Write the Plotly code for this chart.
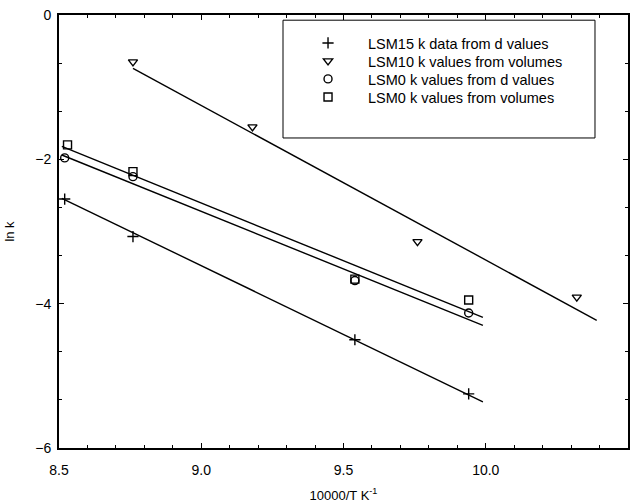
import plotly.graph_objects as go

# Data
x_lsm15 = [8.52, 8.76, 9.54, 9.94]
y_lsm15 = [-2.55, -3.07, -4.50, -5.25]

x_lsm10 = [8.76, 9.18, 9.76, 10.32]
y_lsm10 = [-0.65, -1.55, -3.14, -3.91]

x_lsm0_d = [8.52, 8.76, 9.54, 9.94]
y_lsm0_d = [-1.98, -2.24, -3.68, -4.13]

x_lsm0_v = [8.53, 8.76, 9.54, 9.94]
y_lsm0_v = [-1.80, -2.17, -3.66, -3.95]

# Fitted line end points
fit15_x = [8.51, 9.99]
fit15_y = [-2.54, -5.36]
fit10_x = [8.76, 10.39]
fit10_y = [-0.74, -4.23]
fit0d_x = [8.51, 9.99]
fit0d_y = [-1.94, -4.30]
fit0v_x = [8.51, 9.99]
fit0v_y = [-1.82, -4.19]

names = ["LSM15 k data from d values", "LSM10 k values from volumes",
         "LSM0 k values from d values", "LSM0 k values from volumes"]

FONT = "Liberation Sans, Arial, sans-serif"
fig = go.Figure()

for fx, fy in [(fit15_x, fit15_y), (fit10_x, fit10_y), (fit0d_x, fit0d_y), (fit0v_x, fit0v_y)]:
    fig.add_trace(go.Scatter(x=fx, y=fy, mode="lines", showlegend=False,
                             line=dict(color="black", width=1.4), hoverinfo="skip"))

series = [
    (x_lsm15, y_lsm15, "cross-thin-open", 8),
    (x_lsm10, y_lsm10, "triangle-down-open", 8),
    (x_lsm0_d, y_lsm0_d, "circle-open", 8),
    (x_lsm0_v, y_lsm0_v, "square-open", 8),
]
legend_ids = ["legend", "legend2", "legend3", "legend4"]
for (sx, sy, sym, sz), nm, lg in zip(series, names, legend_ids):
    fig.add_trace(go.Scatter(x=sx, y=sy, mode="markers", name=nm, legend=lg,
                             marker=dict(symbol=sym, size=sz, color="black",
                                         line=dict(color="black", width=1.4))))

row_y = [0.9353, 0.8938, 0.8522, 0.8106]
leg_common = dict(x=0.4025, xanchor="left", yanchor="middle",
                  bgcolor="rgba(0,0,0,0)", borderwidth=0,
                  font=dict(family=FONT, size=14.5, color="black"),
                  itemwidth=70)

fig.update_layout(
    width=640, height=504,
    margin=dict(l=59, r=12, t=15, b=56, autoexpand=False),
    paper_bgcolor="white", plot_bgcolor="white",
    font=dict(family=FONT, size=13, color="black"),
    showlegend=True,
    legend=dict(y=row_y[0], **leg_common),
    legend2=dict(y=row_y[1], **leg_common),
    legend3=dict(y=row_y[2], **leg_common),
    legend4=dict(y=row_y[3], **leg_common),
    shapes=[dict(type="rect", xref="paper", yref="paper",
                 x0=0.3937, x1=0.942, y0=0.716, y1=0.988,
                 line=dict(color="black", width=1))],
)

fig.update_xaxes(
    range=[8.5, 10.5], dtick=0.5, tick0=8.5, tickformat=".1f",
    ticks="inside", ticklen=5, tickwidth=1, tickcolor="black",
    minor=dict(dtick=0.1, ticks="inside", ticklen=3, tickcolor="black"),
    showline=True, linecolor="black", linewidth=2, mirror="ticks",
    showgrid=False, zeroline=False, ticklabelstandoff=8, automargin=False,
    tickfont=dict(family=FONT, size=14),
    title=dict(text="10000/T K<sup>-1</sup>", font=dict(family=FONT, size=13), standoff=14),
)
fig.update_yaxes(
    range=[-6, 0], dtick=2, tick0=0,
    ticks="inside", ticklen=5, tickwidth=1, tickcolor="black",
    minor=dict(dtick=2/3, ticks="inside", ticklen=3, tickcolor="black"),
    showline=True, linecolor="black", linewidth=2, mirror="ticks",
    showgrid=False, zeroline=False, ticklabelstandoff=3, automargin=False,
    tickfont=dict(family=FONT, size=14),
    title=dict(text="ln k", font=dict(family=FONT, size=13), standoff=18),
)

fig.write_html("out.html")
